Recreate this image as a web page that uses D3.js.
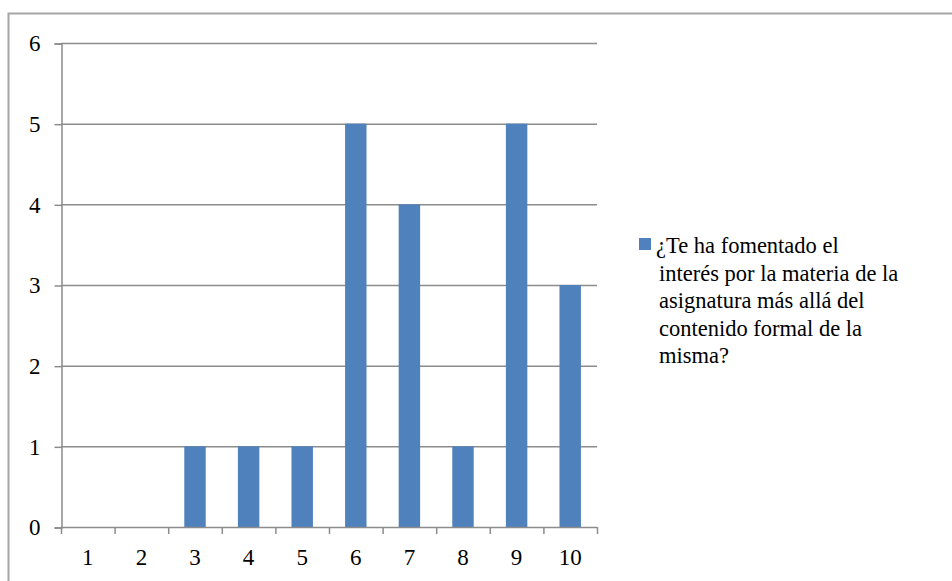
<!DOCTYPE html>
<html><head><meta charset="utf-8">
<script src="https://cdn.jsdelivr.net/npm/d3@7"></script>
<style>html,body{margin:0;padding:0;background:#fff;}svg{display:block;}</style>
</head><body>
<svg id="c" width="952" height="581"></svg>
<script>
const categories = ["1","2","3","4","5","6","7","8","9","10"];
const values = [0,0,1,1,1,5,4,1,5,3];
const yTicks = [0,1,2,3,4,5,6];
const legendLines = ["¿Te ha fomentado el","interés por la materia de la","asignatura más allá del","contenido formal de la","misma?"];

const svg = d3.select("#c");
const font = "'Liberation Serif','Times New Roman',serif";
svg.append("rect").attr("x",8.5).attr("y",13.5).attr("width",960).attr("height",600)
  .attr("fill","none").attr("stroke","#a6a6a6").attr("stroke-width",2);

const L=61, R=597, T=43, B=527;
const x = d3.scaleBand().domain(categories).range([L,R]).paddingInner(0.6).paddingOuter(0.3);
const xb = d3.scaleBand().domain(categories).range([L,R]);
const y = d3.scaleLinear().domain([0,6]).range([B,T]);

svg.append("g").selectAll("line").data(yTicks.filter(d=>d>0)).join("line")
  .attr("x1",L).attr("x2",R).attr("y1",d=>y(d)+0.5).attr("y2",d=>y(d)+0.5)
  .attr("stroke","#8c8c8c").attr("stroke-width",1.5);

svg.append("g").selectAll("rect").data(values).join("rect")
  .attr("x",(d,i)=>x(categories[i])).attr("width",x.bandwidth())
  .attr("y",d=>y(d)).attr("height",d=>B-y(d))
  .attr("fill","#4f81bd");

const ya = d3.axisLeft(y).tickValues(yTicks).tickSize(7).tickPadding(14).tickFormat(d3.format("d"));
const yg = svg.append("g").attr("transform",`translate(${L+0.5},0.5)`).call(ya);
const xa = d3.axisBottom(xb).tickSize(0).tickPadding(21);
const xg = svg.append("g").attr("transform",`translate(0,${B+0.5})`).call(xa);
svg.append("g").selectAll("line").data(d3.range(categories.length+1)).join("line")
  .attr("x1",i=>L+i*xb.step()+0.5).attr("x2",i=>L+i*xb.step()+0.5)
  .attr("y1",B).attr("y2",B+7).attr("stroke","#8c8c8c").attr("stroke-width",1.5);
[yg,xg].forEach(g=>{
  g.attr("font-family",font).attr("font-size",23);
  g.select(".domain").attr("stroke","#8c8c8c").attr("stroke-width",1.5);
  g.selectAll(".tick line").attr("stroke","#8c8c8c").attr("stroke-width",1.5);
  g.selectAll("text").attr("fill","#000");
});
xg.select(".domain").attr("d",`M${L},0H${R}`);

const lg = svg.append("g");
lg.append("rect").attr("x",639).attr("y",238).attr("width",12).attr("height",12).attr("fill","#4f81bd");
lg.append("text").attr("font-family",font).attr("font-size",22.5).attr("fill","#000")
  .selectAll("tspan").data(legendLines).join("tspan")
  .attr("x",(d,i)=>i===0?656:659).attr("y",(d,i)=>253+i*27.5).text(d=>d);
</script>
</body></html>
